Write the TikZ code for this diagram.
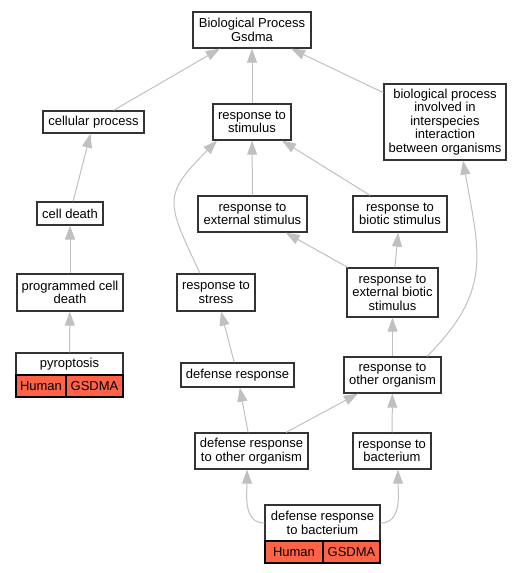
\documentclass[tikz,border=0pt]{standalone}
\usepackage{fontspec}
\setmainfont{Liberation Sans}
\usetikzlibrary{arrows.meta}
\definecolor{termred}{RGB}{255,99,71}
\definecolor{edgegray}{RGB}{192,192,192}
\definecolor{boxline}{RGB}{51,51,51}
\begin{document}
\begin{tikzpicture}[x=1pt,y=-1pt,
    term/.style={draw=boxline, line width=1.3pt, fill=white, inner sep=0pt, align=center,
      font=\fontsize{13}{13.4}\selectfont},
    gene/.style={term, draw=black, fill=termred, minimum height=22pt},
    isa/.style={draw=edgegray, line width=1pt, -{Triangle[length=14pt,width=10pt]}}]
          \useasboundingbox (0,0) rectangle (527,573);

          \node [term, minimum width=118pt, minimum height=36pt] (bp) at (252,30) {Biological Process\\Gsdma}; % root

          \node [term, minimum width=101pt, minimum height=22pt] (cell) at (93.5,122) {cellular process};
          \node [term, minimum width=78pt, minimum height=36pt] (stim) at (252,122) {response to\\stimulus};
          \node [term, minimum width=122pt, minimum height=76pt] (inter) at (445,122) {biological process\\involved in\\interspecies\\interaction\\between organisms};

          \node [term, minimum width=66pt, minimum height=23pt] (death) at (70,213.5) {cell death};
          \node [term, minimum width=109pt, minimum height=36pt] (ext) at (252.5,214) {response to\\external stimulus};
          \node [term, minimum width=94pt, minimum height=36pt] (biotic) at (400,214) {response to\\biotic stimulus};

          \node [term, minimum width=106pt, minimum height=37pt] (prog) at (70,292.5) {programmed cell\\death};
          \node [term, minimum width=78pt, minimum height=37pt] (stress) at (216,292.5) {response to\\stress};
          \node [term, minimum width=91pt, minimum height=49pt] (extbio) at (392.5,292.5) {response to\\external biotic\\stimulus};

          \node [term, minimum width=107pt, minimum height=22pt] (pyro) at (69.5,364) {pyroptosis};
          \node [gene, minimum width=50pt] (pyrohuman) at (41,386) {Human}; % annotation
          \node [gene, minimum width=57pt] (pyrogene) at (94.5,386) {GSDMA};
          \node [term, minimum width=113pt, minimum height=24pt] (def) at (237.5,375) {defense response};
          \node [term, minimum width=97pt, minimum height=36pt] (other) at (392.5,375) {response to\\other organism};

          \node [term, minimum width=113pt, minimum height=36pt] (defother) at (251.5,451) {defense response\\to other organism};
          \node [term, minimum width=78pt, minimum height=36pt] (bact) at (392,451) {response to\\bacterium};

          \node [term, minimum width=115pt, minimum height=36pt] (defbact) at (322.5,523) {defense response\\to bacterium};
          \node [gene, minimum width=58pt] (defbacthuman) at (294,552) {Human}; % annotation
          \node [gene, minimum width=57pt] (defbactgene) at (351.5,552) {GSDMA};

          \draw [isa] (cell) -- (bp);
          \draw [isa] (stim) -- (bp);
          \draw [isa] (inter) -- (bp);

          \draw [isa] (death) -- (cell);
          \draw [isa] (ext) -- (stim);
          \draw [isa] (biotic) -- (stim);
          \draw [isa, looseness=1.5] ([xshift=-16pt]stress.north) to [out=115,in=225] ([xshift=-35pt]stim.south);

          \draw [isa] (prog) -- (death);
          \draw [isa] (extbio) -- (ext);
          \draw [isa] (extbio) -- (biotic);
          \draw [isa] (pyro) -- (prog);
          \draw [isa] (def) -- (stress);
          \draw [isa] (other) -- (extbio);
          \draw [isa, looseness=1.2] ([xshift=34.5pt]other.north) to [out=45,in=280] ([xshift=18pt]inter.south);

          \draw [isa] (defother) -- (def);
          \draw [isa] (defother) -- (other);
          \draw [isa] (bact) -- (other);
          \draw [isa] (defbact.west) to [out=180,in=270] ([xshift=-4.5pt]defother.south);
          \draw [isa] (defbact.east) to [out=0,in=270] ([xshift=6pt]bact.south);
        \end{tikzpicture}
\end{document}
